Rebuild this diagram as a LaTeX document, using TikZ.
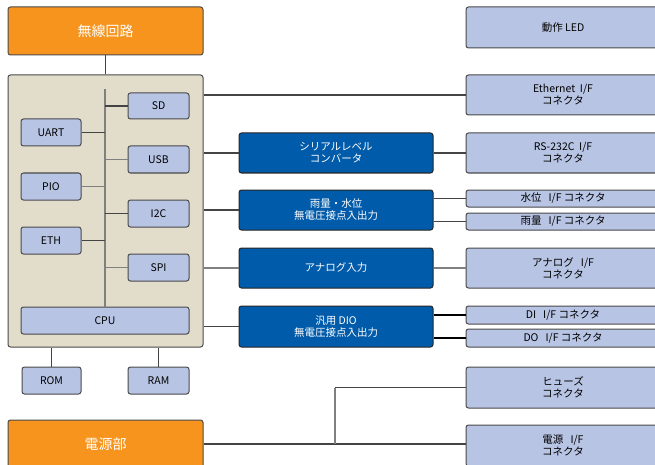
\documentclass[tikz,border=0pt]{standalone}
\usepackage{fontspec}
\setmainfont{Noto Sans CJK JP}
\usetikzlibrary{calc}
\definecolor{orng}{HTML}{F7941D}
\definecolor{beige}{HTML}{E2DCCB}
\definecolor{lblue}{HTML}{B8C4E4}
\definecolor{dblue}{HTML}{005BAA}
\definecolor{edge}{HTML}{4A4A4A}
\definecolor{wire}{HTML}{444444}
\definecolor{gwire}{HTML}{808080}
\tikzset{
  base/.style={rounded corners=2.5pt, line width=1pt, draw=edge, inner sep=1pt, align=center,
    font=\fontsize{10.5}{12}\selectfont},
  lbox/.style={base, fill=lblue, text=black},
  bbox/.style={base, fill=dblue, text=white, draw=black!85},
  obox/.style={base, fill=orng, text=white, font=\fontsize{14}{16}\selectfont},
  cpubox/.style={base, fill=beige},
  ln/.style={draw=wire, line width=1.3pt},
  gln/.style={draw=gwire, line width=1.3pt},
  bln/.style={draw=black, line width=1.8pt},
}
\begin{document}
\begin{tikzpicture}[x=1pt,y=-1pt]
\useasboundingbox (0,0) rectangle (655,465);
\clip (0,0) rectangle (655,465);
% left column
\node[obox, minimum width=195pt, minimum height=48pt] (radio) at (105.5,31) {無線回路};
\node[cpubox, minimum width=195pt, minimum height=272pt] (main) at (105.5,211) {};
\node[obox, minimum width=195pt, minimum height=48pt] (pw) at (105.5,444) {電源部};
% inner boxes
\node[lbox, minimum width=61pt, minimum height=26pt] (sd) at (158.5,106) {SD};
\node[lbox, minimum width=60pt, minimum height=27pt] (uart) at (51,132.5) {UART};
\node[lbox, minimum width=61pt, minimum height=27pt] (usb) at (158.5,159.5) {USB};
\node[lbox, minimum width=60pt, minimum height=27pt] (pio) at (51,186.5) {PIO};
\node[lbox, minimum width=61pt, minimum height=27pt] (i2c) at (158.5,213.5) {I2C};
\node[lbox, minimum width=60pt, minimum height=27pt] (eth) at (51,240.5) {ETH};
\node[lbox, minimum width=61pt, minimum height=27pt] (spi) at (158.5,267.5) {SPI};
\node[lbox, minimum width=168pt, minimum height=27pt] (cpu) at (105,320.5) {CPU};
\node[lbox, minimum width=59pt, minimum height=27pt] (rom) at (51.5,380.5) {ROM};
\node[lbox, minimum width=61pt, minimum height=27pt] (ram) at (158.5,380.5) {RAM};
% blue column
\node[bbox, minimum width=194pt, minimum height=40pt] (ser) at (336,153) {シリアルレベル\\コンバータ};
\node[bbox, minimum width=194pt, minimum height=40pt] (rw) at (336,210) {雨量・水位\\無電圧接点入出力};
\node[bbox, minimum width=194pt, minimum height=40pt] (ana) at (336,268) {アナログ入力};
\node[bbox, minimum width=194pt, minimum height=41pt] (dio) at (336,326.5) {汎用 DIO\\無電圧接点入出力};
% right column
\node[lbox, minimum width=194pt, minimum height=41pt] (led) at (563,27.5) {動作 LED};
\node[lbox, minimum width=194pt, minimum height=40pt] (ether) at (563,95) {Ethernet\ \ I/F\\コネクタ};
\node[lbox, minimum width=194pt, minimum height=40pt] (rs) at (563,153) {RS-232C\ \ I/F\\コネクタ};
\node[lbox, minimum width=194pt, minimum height=17pt] (wl) at (563,198.5) {水位\ \ \ I/F コネクタ};
\node[lbox, minimum width=194pt, minimum height=17pt] (rain) at (563,221.5) {雨量\ \ \ I/F コネクタ};
\node[lbox, minimum width=194pt, minimum height=40pt] (aif) at (563,268) {アナログ\ \ \ I/F\\コネクタ};
\node[lbox, minimum width=194pt, minimum height=18pt] (di) at (563,315) {DI\ \ \ I/F コネクタ};
\node[lbox, minimum width=194pt, minimum height=18pt] (do) at (563,338) {DO\ \ \ I/F コネクタ};
\node[lbox, minimum width=194pt, minimum height=41pt] (fuse) at (563,387.5) {ヒューズ\\コネクタ};
\node[lbox, minimum width=194pt, minimum height=41pt] (pwif) at (563,445.5) {電源\ \ \ I/F\\コネクタ};
% internal bus
\coordinate (bustop) at (105,89);
\draw[gln] (bustop) -- (bustop |- cpu.north);
\draw[ln] (sd.west) -- (sd.west -| bustop);
\draw[ln] (uart.east) -- (uart.east -| bustop);
\draw[gln] (usb.west) -- (usb.west -| bustop);
\draw[gln] (pio.east) -- (pio.east -| bustop);
\draw[ln] (i2c.west) -- (i2c.west -| bustop);
\draw[ln] (eth.east) -- (eth.east -| bustop);
\draw[gln] (spi.west) -- (spi.west -| bustop);
% vertical links
\draw[ln] (radio.south) -- (main.north);
\draw[ln] (rom.north) -- (rom.north |- main.south);
\draw[ln] (ram.north) -- (ram.north |- main.south);
% main to right
\draw[ln] (main.east |- ether.west) -- (ether.west);
\draw[ln] (main.east |- ser.west) -- (ser.west);
\draw[ln] (ser.east) -- (rs.west);
\draw[ln] (main.east |- rw.west) -- (rw.west);
\draw[ln] (rw.east |- wl.west) -- (wl.west);
\draw[ln] (rw.east |- rain.west) -- (rain.west);
\draw[gln] (main.east |- ana.west) -- (ana.west);
\draw[gln] (ana.east) -- (aif.west);
\draw[ln] (main.east |- dio.west) -- (dio.west);
\draw[bln] (dio.east |- di.west) -- (di.west);
\draw[bln] (dio.east |- do.west) -- (do.west);
% power
\coordinate (pj) at (335,0);
\draw[ln] (pw.east) -- (pw.east -| pwif.west);
\draw[gln] (pj |- pw.east) -- (pj |- fuse.west);
\draw[ln] (pj |- fuse.west) -- (fuse.west);
\end{tikzpicture}
\end{document}
